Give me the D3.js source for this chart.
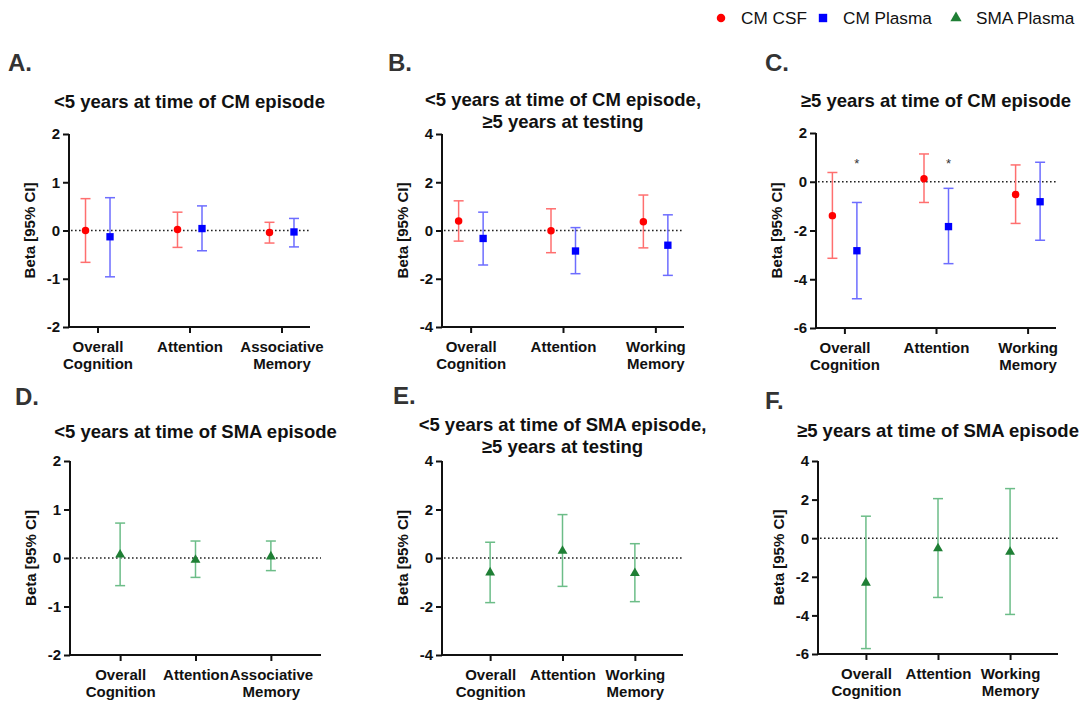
<!DOCTYPE html>
<html><head><meta charset="utf-8">
<script src="https://cdn.jsdelivr.net/npm/d3@7"></script>
<style>
body{margin:0;background:#fff;}
svg{display:block;font-family:"Liberation Sans",Arial,sans-serif;}
</style></head>
<body><svg id="c" width="1081" height="702"></svg>
<script>
// ---- data ----
const catsAssoc = ["Overall|Cognition", "Attention", "Associative|Memory"];
const catsWork = ["Overall|Cognition", "Attention", "Working|Memory"];
const seriesNames = ["CM CSF", "CM Plasma", "SMA Plasma"];
// [estimate, lower CI, upper CI]
const aCsf    = [[0.00,-0.66,0.66],[0.02,-0.35,0.38],[-0.04,-0.26,0.17]];
const aPlasma = [[-0.13,-0.96,0.68],[0.04,-0.42,0.51],[-0.03,-0.34,0.25]];
const bCsf    = [[0.39,-0.44,1.23],[-0.01,-0.92,0.90],[0.36,-0.72,1.47]];
const bPlasma = [[-0.33,-1.43,0.76],[-0.85,-1.79,0.12],[-0.61,-1.86,0.65]];
const cCsf    = [[-1.39,-3.14,0.38],[0.12,-0.85,1.14],[-0.52,-1.71,0.69]];
const cPlasma = [[-2.83,-4.80,-0.85],[-1.84,-3.36,-0.27],[-0.82,-2.40,0.80]];
const cSig    = ["*", "*", ""];
const dSma    = [[0.07,-0.57,0.72],[-0.04,-0.40,0.35],[0.03,-0.26,0.35]];
const eSma    = [[-0.60,-1.84,0.65],[0.29,-1.17,1.79],[-0.63,-1.80,0.59]];
const fSma    = [[-2.31,-5.72,1.14],[-0.53,-3.07,2.05],[-0.71,-3.95,2.57]];
const ticks2 = [-2,-1,0,1,2];
const ticks4 = [-4,-2,0,2,4];
const ticks6 = [-6,-4,-2,0,2];
const ticks64 = [-6,-4,-2,0,2,4];

// ---- styles ----
const styles = {
  "CM CSF":     {shape: d3.symbolCircle,   size: 44, fill: "#ff0000", bar: "#ff6f6f", dx: -12},
  "CM Plasma":  {shape: d3.symbolSquare,   size: 54, fill: "#0000ff", bar: "#6d6dff", dx: 12.5},
  "SMA Plasma": {shape: d3.symbolTriangle, size: 42, fill: "#1f7f35", bar: "#6cbd88", dx: 0}
};

const panels = [
  {label:"A.", lx:8,   ly:71,  title:["<5 years at time of CM episode"], ty:108, cats:catsAssoc,
   series:[["CM CSF",aCsf],["CM Plasma",aPlasma]], dom:[-2,2], ticks:ticks2, L:69, R:310, T:134, B:327, pad:0.31},
  {label:"B.", lx:388, ly:71,  title:["<5 years at time of CM episode,","≥5 years at testing"], ty:106, cats:catsWork,
   series:[["CM CSF",bCsf],["CM Plasma",bPlasma]], dom:[-4,4], ticks:ticks4, L:442, R:684, T:134, B:327, pad:0.31},
  {label:"C.", lx:765, ly:71,  title:["≥5 years at time of CM episode"], ty:107, cats:catsWork,
   series:[["CM CSF",cCsf],["CM Plasma",cPlasma]], dom:[-6,2], ticks:ticks6, L:816, R:1056, T:133, B:328, pad:0.31, sig:cSig},
  {label:"D.", lx:15,  ly:405, title:["<5 years at time of SMA episode"], ty:438, cats:catsAssoc,
   series:[["SMA Plasma",dSma]], dom:[-2,2], ticks:ticks2, L:70, R:321, T:461, B:655, pad:0.665},
  {label:"E.", lx:393, ly:404, title:["<5 years at time of SMA episode,","≥5 years at testing"], ty:431, cats:catsWork,
   series:[["SMA Plasma",eSma]], dom:[-4,4], ticks:ticks4, L:442, R:683, T:461, B:655, pad:0.665},
  {label:"F.", lx:765, ly:409, title:["≥5 years at time of SMA episode"], ty:437, cats:catsWork,
   series:[["SMA Plasma",fSma]], dom:[-6,4], ticks:ticks64, L:818, R:1058, T:461, B:654, pad:0.665}
];

const svg = d3.select("#c");

panels.forEach(p => {
  const g = svg.append("g");
  const x = d3.scalePoint().domain(p.cats).range([p.L, p.R]).padding(p.pad);
  const y = d3.scaleLinear().domain(p.dom).range([p.B, p.T]);

  // panel label
  g.append("text").attr("x", p.lx).attr("y", p.ly).text(p.label)
    .attr("font-size", 24).attr("font-weight", "bold").attr("fill", "#333");
  // title
  p.title.forEach((t, i) => {
    g.append("text").attr("x", (p.L + p.R) / 2).attr("y", p.ty + i * 21.7)
      .attr("text-anchor", "middle").attr("font-size", 18.5).attr("font-weight", "bold")
      .attr("fill", "#111").text(t);
  });

  // zero line
  g.append("line").attr("x1", p.L + 2).attr("x2", p.R).attr("y1", y(0)).attr("y2", y(0))
    .attr("stroke", "#222").attr("stroke-width", 1.6).attr("stroke-dasharray", "1.6,2.4");

  // y axis
  const ya = g.append("g").attr("transform", `translate(${p.L},0)`)
    .call(d3.axisLeft(y).tickValues(p.ticks).tickSize(6).tickPadding(3).tickFormat(d => String(d)));
  ya.select(".domain").attr("stroke", "#111").attr("stroke-width", 2).attr("d", `M0,${p.T}V${p.B}`);
  ya.selectAll(".tick line").attr("stroke", "#111").attr("stroke-width", 2);
  ya.selectAll(".tick text").attr("font-size", 15).attr("font-weight", "bold").attr("fill", "#111")
    .attr("font-family", "Liberation Sans, Arial, sans-serif");

  // x axis
  const xa = g.append("g").attr("transform", `translate(0,${p.B})`)
    .call(d3.axisBottom(x).tickSize(6).tickFormat(""));
  xa.select(".domain").attr("stroke", "#111").attr("stroke-width", 2).attr("d", `M${p.L - 1},0H${p.R}`);
  xa.selectAll(".tick line").attr("stroke", "#111").attr("stroke-width", 2);
  xa.selectAll(".tick").each(function(d) {
    const t = d3.select(this).append("text").attr("fill", "#111").attr("font-size", 15)
      .attr("font-weight", "bold").attr("text-anchor", "middle")
      .attr("font-family", "Liberation Sans, Arial, sans-serif");
    d.split("|").forEach((s, i) => t.append("tspan").attr("x", 0).attr("y", 25 + i * 16.5).text(s));
  });

  // y title
  g.append("text").attr("transform", `translate(${p.L - 34},${(p.T + p.B) / 2}) rotate(-90)`)
    .attr("text-anchor", "middle").attr("font-size", 15).attr("font-weight", "bold")
    .attr("fill", "#111").text("Beta [95% CI]");

  // series
  p.series.forEach(([name, data]) => {
    const st = styles[name];
    const sg = g.append("g");
    data.forEach((v, i) => {
      const cx = x(p.cats[i]) + st.dx;
      const cap = 5;
      sg.append("line").attr("x1", cx).attr("x2", cx).attr("y1", y(v[1])).attr("y2", y(v[2]))
        .attr("stroke", st.bar).attr("stroke-width", 1.5);
      [v[1], v[2]].forEach(e => sg.append("line").attr("x1", cx - cap).attr("x2", cx + cap)
        .attr("y1", y(e)).attr("y2", y(e)).attr("stroke", st.bar).attr("stroke-width", 1.5));
      sg.append("path").attr("d", d3.symbol().type(st.shape).size(st.size)())
        .attr("transform", `translate(${cx},${y(v[0])})`).attr("fill", st.fill);
    });
  });

  // significance
  if (p.sig) {
    p.sig.forEach((s, i) => {
      if (!s) return;
      g.append("text").attr("x", x(p.cats[i]) + styles["CM Plasma"].dx).attr("y", y(0.55))
        .attr("text-anchor", "middle").attr("font-size", 13).attr("fill", "#333").text(s);
    });
  }
});

// legend
const legX = [721, 823, 956];
const lg = svg.append("g");
seriesNames.forEach((n, i) => {
  const st = styles[n];
  lg.append("path").attr("d", d3.symbol().type(st.shape).size(st.size * 1.3)())
    .attr("transform", `translate(${legX[i]},18)`).attr("fill", st.fill);
  lg.append("text").attr("x", legX[i] + 20).attr("y", 24).attr("font-size", 17.2)
    .attr("fill", "#111").text(n);
});
</script></body></html>
